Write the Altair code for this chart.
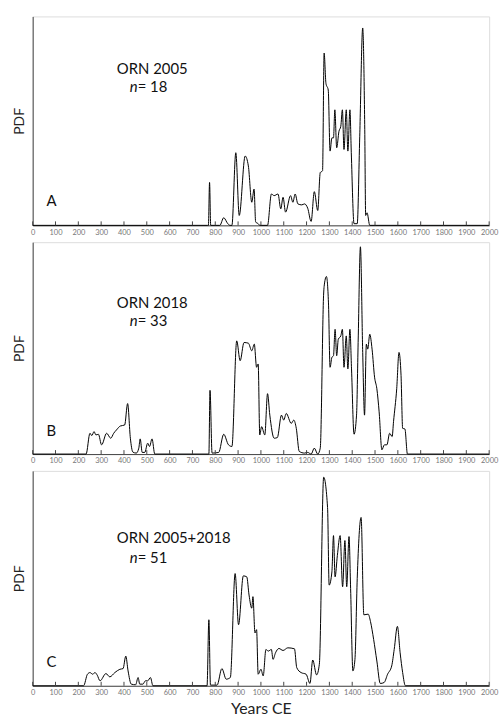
import altair as alt
import pandas as pd

# ---------------- data ----------------
tick_years = list(range(0, 2001, 100))

years_a = [0, 765, 770, 775, 780, 820, 837, 855, 865, 873, 890, 905, 931, 945, 960, 970, 977,
           988, 995, 1029, 1046, 1058, 1075, 1087, 1097, 1108, 1130, 1140, 1150, 1162, 1179,
           1191, 1205, 1220, 1234, 1249, 1260, 1270, 1277, 1285, 1295, 1303, 1311, 1318, 1324,
           1332, 1342, 1350, 1357, 1364, 1374, 1381, 1390, 1396, 1408, 1422, 1433, 1446, 1455,
           1459, 1465, 1477, 2000]
pdf_a = [0, 0, 0, 130, 0, 0, 23, 5, 0, 0, 220, 30, 210, 180, 70, 110, 10,
         5, 0, 0, 95, 90, 95, 50, 85, 40, 90, 70, 95, 65, 62,
         65, 52, 12, 102, 45, 160, 165, 522, 430, 410, 225, 265, 265, 350,
         235, 285, 300, 350, 230, 350, 225, 350, 220, 5, 5, 270, 598, 290,
         30, 38, 0, 0]

years_b = [0, 234, 251, 259, 269, 277, 288, 302, 324, 342, 355, 367, 384, 403, 416, 428, 439,
           454, 465, 471, 480, 491, 504, 512, 523, 535, 768, 772, 777, 786, 815, 837, 858, 873,
           894, 909, 926, 945, 960, 971, 981, 988, 995, 1003, 1017, 1029, 1039, 1058, 1072,
           1090, 1100, 1111, 1133, 1144, 1155, 1168, 1191, 1205, 1220, 1234, 1249, 1260, 1275,
           1277, 1287, 1296, 1303, 1311, 1318, 1325, 1332, 1339, 1350, 1357, 1364, 1374, 1381,
           1390, 1397, 1408, 1419, 1426, 1436, 1446, 1454, 1462, 1468, 1477, 1487, 1498, 1508,
           1518, 1530, 1541, 1552, 1564, 1575, 1581, 1595, 1605, 1614, 1621, 1631, 1642, 2000]
pdf_b = [0, 0, 63, 56, 68, 58, 60, 28, 63, 48, 63, 73, 85, 88, 153, 48, 6,
         3, 18, 46, 5, 5, 33, 23, 46, 0, 0, 0, 193, 3, 5, 60, 28, 23,
         343, 283, 338, 336, 313, 333, 263, 273, 58, 83, 58, 183, 118, 48, 50,
         118, 103, 123, 93, 103, 78, 8, 3, 5, 0, 18, 0, 18, 488,
         508, 538, 458, 263, 293, 298, 378, 298, 348, 358, 378, 263, 358, 258,
         378, 258, 60, 118, 338, 628, 308, 118, 333, 318, 363, 318, 233, 198,
         128, 13, 28, 28, 63, 53, 98, 198, 308, 238, 78, 76, 0, 0]

years_c = [0, 223, 240, 251, 263, 273, 283, 295, 321, 338, 360, 382, 396, 408, 418, 432, 451,
           462, 469, 483, 494, 504, 516, 527, 764, 772, 779, 808, 829, 848, 866, 887, 902, 923,
           938, 948, 960, 965, 974, 981, 988, 1000, 1010, 1022, 1032, 1046, 1053, 1064, 1079,
           1097, 1118, 1147, 1157, 1176, 1198, 1215, 1227, 1244, 1256, 1275, 1292, 1299, 1311,
           1318, 1325, 1335, 1347, 1358, 1368, 1376, 1386, 1393, 1403, 1412, 1422, 1439, 1451,
           1470, 1480, 1494, 1508, 1523, 1540, 1555, 1573, 1584, 1598, 1610, 1621, 1633, 2000]
pdf_c = [0, 0, 35, 40, 35, 40, 32, 15, 37, 27, 40, 50, 52, 90, 45, 5, 3,
         25, 5, 5, 15, 15, 25, 0, 0, 200, 2, 2, 52, 20, 25, 340, 185, 333,
         330, 275, 235, 270, 160, 170, 35, 50, 30, 110, 105, 110, 80, 100, 113,
         107, 115, 112, 55, 40, 35, 7, 78, 33, 65, 632, 540, 305, 345,
         455, 330, 395, 455, 300, 440, 300, 452, 295, 45, 80, 325, 510, 215,
         217, 195, 140, 75, 7, 10, 35, 60, 110, 180, 100, 40, 0, 0]

panel_titles = ["ORN 2005", "ORN 2018", "ORN 2005+2018"]
panel_n = ["18", "33", "51"]
panel_letters = ["A", "B", "C"]

# ---------------- style ----------------
FONT = "Lato"
AXIS = "#444444"
W = 461
heights = [211, 214, 217]
title_pos = [(85, 58), (85, 66), (85, 73)]
n_pos = [(98, 76), (98, 85), (98, 93)]
letter_pos = [(14, 191), (14, 196), (14, 198)]

series = [(years_a, pdf_a), (years_b, pdf_b), (years_c, pdf_c)]
ticks_df = pd.DataFrame({"t": tick_years})


def panel(i):
    H = heights[i]
    yrs, vals = series[i]
    df = pd.DataFrame({"year": yrs, "pdf": vals})
    xscale = alt.Scale(domain=[0, 2000], nice=False)
    last = i == 2
    xaxis = alt.Axis(values=tick_years, format="d", ticks=False, grid=False, orient="bottom",
                     labelFont=FONT, labelFontSize=7.5, labelColor="#777777",
                     labelPadding=3, domainColor=AXIS, labelFlush=False,
                     labelOverlap=False, labelBound=False,
                     title="Years CE" if last else "",
                     titleFont=FONT, titleFontSize=16, titleFontWeight="normal",
                     titleColor="#222222", titlePadding=4)
    line = alt.Chart(df).mark_line(color="black", strokeWidth=1, interpolate="monotone").encode(
        x=alt.X("year:Q", scale=xscale, axis=xaxis),
        y=alt.Y("pdf:Q", scale=alt.Scale(domain=[0, H * 3], nice=False),
                axis=alt.Axis(labels=False, ticks=False, grid=False, title="PDF",
                              titleFont=FONT, titleFontSize=14, titleFontWeight="normal",
                              titleColor="#222222", titlePadding=6, domainColor=AXIS)),
    )
    ticks = alt.Chart(ticks_df).mark_rule(color=AXIS, strokeWidth=1).encode(
        x=alt.X("t:Q", scale=xscale, axis=xaxis),
        y=alt.value(H - 4), y2=alt.value(H),
    )
    lab = pd.DataFrame({"title": [panel_titles[i]], "n": ["n"], "rest": ["= " + panel_n[i]],
                        "letter": [panel_letters[i]]})
    base = alt.Chart(lab)
    t1 = base.mark_text(align="left", baseline="alphabetic", font=FONT, fontSize=15,
                        color="#111111").encode(
        x=alt.value(title_pos[i][0]), y=alt.value(title_pos[i][1]), text="title:N")
    t2 = base.mark_text(align="left", baseline="alphabetic", font=FONT, fontSize=15,
                        fontStyle="italic", color="#111111").encode(
        x=alt.value(n_pos[i][0]), y=alt.value(n_pos[i][1]), text="n:N")
    t3 = base.mark_text(align="left", baseline="alphabetic", font=FONT, fontSize=15,
                        color="#111111").encode(
        x=alt.value(n_pos[i][0] + 8), y=alt.value(n_pos[i][1]), text="rest:N")
    t4 = base.mark_text(align="left", baseline="alphabetic", font=FONT, fontSize=15,
                        color="#111111").encode(
        x=alt.value(letter_pos[i][0]), y=alt.value(letter_pos[i][1]), text="letter:N")
    return alt.layer(line, ticks, t1, t2, t3, t4).properties(width=W, height=H)


chart = alt.vconcat(panel(0), panel(1), panel(2), spacing=17, bounds="flush").properties(
    padding={"left": 12, "top": 12, "right": 5, "bottom": 2}
).configure_view(stroke=None).configure(background="white")

chart.save("out.html", embed_options={"renderer": "svg", "actions": False})
